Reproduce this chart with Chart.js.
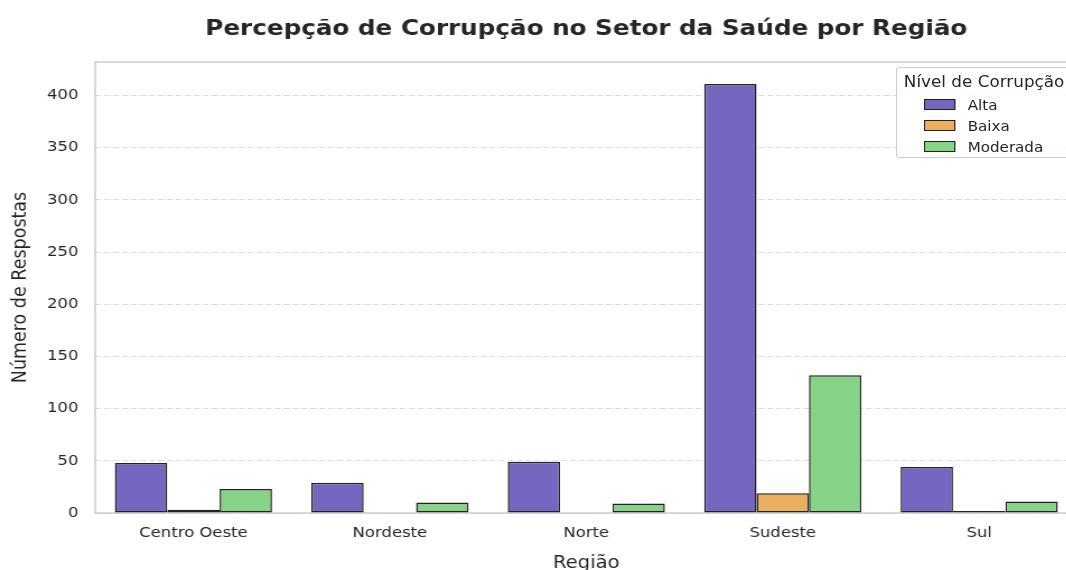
<!DOCTYPE html>
<html lang="pt">
<head>
<meta charset="UTF-8" />
<title>Percepção de Corrupção no Setor da Saúde por Região</title>
<script src="https://cdn.jsdelivr.net/npm/chart.js"></script>
<style>
  body {
    margin: 0;
    background: #fff;
    overflow: hidden;
    font-family: 'DejaVu Sans', sans-serif;
  }
  /* the figure is drawn a little narrow and widened horizontally */
  #wrap {
    position: relative;
    width: 964px;
    height: 570px;
    transform: scaleX(1.12);
    transform-origin: 0 0;
  }
  #chart {
    position: absolute;
    left: 0;
    top: 0;
  }
  /* legend box in the upper right of the plot */
  .legend {
    position: absolute;
    left: 800px;
    top: 67px;
    width: 176px;
    padding: 5px 0 0 0;
    background: rgba(255, 255, 255, 0.85);
    border: 1px solid #cfcfcf;
    border-radius: 3px;
    color: #262626;
    font-size: 13.5px;
  }
  .legend .title {
    font-size: 15px;
    line-height: 18px;
    padding-left: 6px;
    margin-bottom: 3px;
  }
  .legend .item {
    display: flex;
    align-items: center;
    height: 21px;
    padding-left: 24px;
  }
  .legend .swatch {
    width: 26px;
    height: 8.5px;
    border: 1.4px solid #222;
    margin-right: 11px;
  }
</style>
</head>
<body>
<div id="wrap">
  <canvas id="chart" width="964" height="570"></canvas>
  <div class="legend" id="legend"></div>
</div>

<script>
const regions = ['Centro Oeste', 'Nordeste', 'Norte', 'Sudeste', 'Sul'];
const levels = ['Alta', 'Baixa', 'Moderada'];
const alta = [48, 29, 49, 411, 44];
const baixa = [3, null, null, 19, 2];
const moderada = [23, 10, 9, 132, 11];
const yTicks = [0, 50, 100, 150, 200, 250, 300, 350, 400];
const colors = ['#7467c0', '#e9ae5e', '#86d286'];

const titleText = 'Percepção de Corrupção no Setor da Saúde por Região';
const font = 'DejaVu Sans';

// title centred over the plot area, plus light frame around it
const framePlugin = {
  id: 'frame',
  beforeDatasetsDraw(chart) {
    const { ctx, chartArea: a } = chart;
    ctx.save();
    ctx.strokeStyle = '#cccccc';
    ctx.lineWidth = 1.5;
    ctx.strokeRect(a.left, a.top, a.right - a.left, a.bottom - a.top);
    ctx.restore();
  },
  afterDraw(chart) {
    const { ctx, chartArea: a } = chart;
    ctx.save();
    ctx.font = `bold 22px "${font}"`;
    ctx.fillStyle = '#262626';
    ctx.textAlign = 'center';
    ctx.textBaseline = 'middle';
    ctx.fillText(titleText, (a.left + a.right) / 2, 29);
    ctx.restore();
  }
};

const series = [alta, baixa, moderada];

new Chart(document.getElementById('chart'), {
  type: 'bar',
  data: {
    labels: regions,
    datasets: levels.map((lvl, i) => ({
      label: lvl,
      data: series[i],
      backgroundColor: colors[i],
      borderColor: '#222222',
      borderWidth: 1.5,
      borderSkipped: false,
      categoryPercentage: 0.8,
      barPercentage: 1.0
    }))
  },
  options: {
    responsive: false,
    animation: false,
    layout: { padding: { top: 62, left: 0, right: 2, bottom: 0 } },
    plugins: {
      legend: { display: false },
      tooltip: { enabled: false }
    },
    scales: {
      x: {
        grid: { display: false, drawTicks: false },
        border: { display: false },
        ticks: { color: '#262626', font: { family: font, size: 14.7 }, padding: 11 },
        title: {
          display: true,
          text: 'Região',
          color: '#262626',
          font: { family: font, size: 17.5 },
          padding: { top: 0, bottom: -4 }
        },
        afterFit(scale) { scale.height = 57; }
      },
      y: {
        min: 0,
        max: 432,
        grid: {
          color: '#dddddd',
          lineWidth: 1,
          drawTicks: false
        },
        border: { display: false, dash: [5.5, 2.5] },
        ticks: {
          stepSize: 50,
          color: '#262626',
          font: { family: font, size: 14.7 },
          padding: 15
        },
        afterBuildTicks(scale) {
          scale.ticks = yTicks.map(v => ({ value: v }));
        },
        title: {
          display: true,
          text: 'Número de Respostas',
          color: '#262626',
          font: { family: font, size: 17.5 },
          padding: { top: 8, bottom: 0 }
        },
        afterFit(scale) { scale.width = 85; }
      }
    }
  },
  plugins: [framePlugin]
});

// legend entries built from the same series names and colours
const legend = document.getElementById('legend');
legend.innerHTML = '<div class="title">Nível de Corrupção</div>' +
  levels.map((lvl, i) =>
    `<div class="item"><span class="swatch" style="background:${colors[i]}"></span>${lvl}</div>`
  ).join('');
</script>
</body>
</html>
